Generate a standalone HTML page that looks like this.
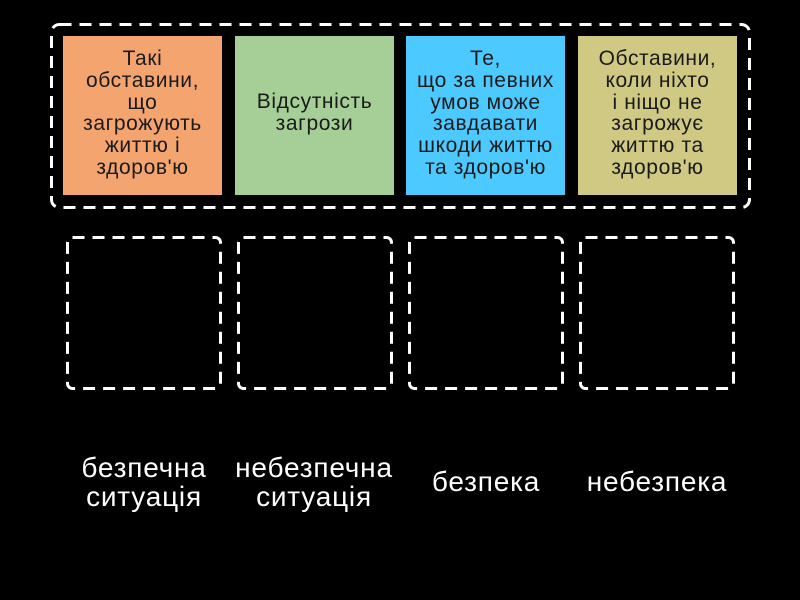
<!DOCTYPE html><html><head><meta charset="utf-8"><style>
body{margin:0;width:800px;height:600px;background:#000;overflow:hidden;font-family:"Liberation Sans",sans-serif;position:relative}
.t{position:absolute;top:36px;width:159px;height:159px;box-sizing:border-box;padding-top:12px;text-align:center;font-size:21px;letter-spacing:0.6px;line-height:21.8px;color:#1a1a1a;white-space:nowrap}
.l{position:absolute;width:190px;text-align:center;color:#fff;font-size:28px;letter-spacing:0.8px;line-height:29px;white-space:nowrap}
</style></head><body>
<svg width="800" height="600" style="position:absolute;left:0;top:0">
<g fill="none" stroke="#fff" stroke-width="3" stroke-dasharray="12 8">
<rect x="51.5" y="24.5" width="698" height="183" rx="8"/>
<rect x="67.5" y="237.5" width="153" height="151" rx="5"/>
<rect x="238.5" y="237.5" width="153" height="151" rx="5"/>
<rect x="409.5" y="237.5" width="153" height="151" rx="5"/>
<rect x="580.5" y="237.5" width="153" height="151" rx="5"/>
</g></svg>
<div class="t" style="left:63px;background:#f4a46f">Такі<br>обставини,<br>що<br>загрожують<br>життю і<br>здоров'ю</div>
<div class="t" style="left:235px;background:#a6cf98;padding-top:55px">Відсутність<br>загрози</div>
<div class="t" style="left:406px;background:#4cc9ff">Те,<br>що за певних<br>умов може<br>завдавати<br>шкоди життю<br>та здоров'ю</div>
<div class="t" style="left:578px;background:#cfc984">Обставини,<br>коли ніхто<br>і ніщо не<br>загрожує<br>життю та<br>здоров'ю</div>
<div class="l" style="left:49px;top:453px">безпечна<br>ситуація</div>
<div class="l" style="left:219px;top:453px">небезпечна<br>ситуація</div>
<div class="l" style="left:391px;top:467px">безпека</div>
<div class="l" style="left:562px;top:467px">небезпека</div>
</body></html>
